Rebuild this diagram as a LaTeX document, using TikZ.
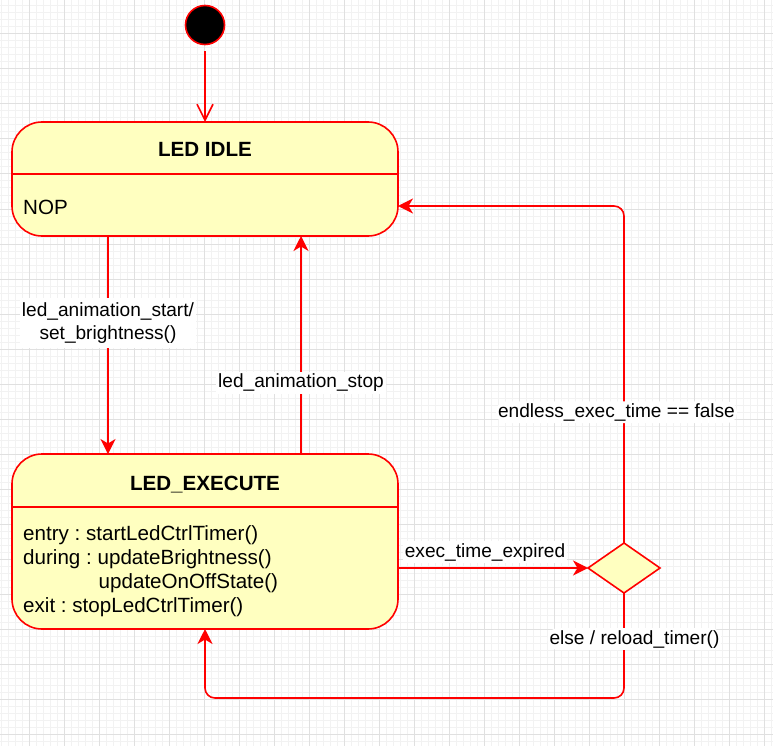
\documentclass[tikz,border=0pt]{standalone}
\usepackage{fontspec}
\setmainfont{Liberation Sans}
\usetikzlibrary{arrows.meta,shapes.geometric}
\definecolor{stfill}{HTML}{FFFFC0}
\definecolor{gmaj}{HTML}{E0E0E0}
\definecolor{gmin}{HTML}{F2F2F2}
\definecolor{lred}{HTML}{FF0000}
\newcommand\bxfont{\fontsize{20.6}{24}\selectfont}
\newcommand\lbfont{\fontsize{19.1}{23.3}\selectfont}
\frenchspacing
\begin{document}
\begin{tikzpicture}[x=1pt,y=-1pt,
  statebox/.style={draw=lred, fill=stfill, line width=1.6pt, rounded corners=30pt,
    inner sep=0pt, outer sep=0pt, minimum width=386pt},
  divider/.style={draw=lred, line width=1.6pt},
  conn/.style={draw=lred, line width=1.6pt, -{Stealth[length=15pt,width=15pt,inset=4.5pt]}},
  lbl/.style={fill=white, inner sep=2pt, font=\lbfont, anchor=base},
  titletext/.style={font=\bxfont\bfseries, anchor=base, inner sep=0pt},
  bodytext/.style={font=\bxfont, anchor=base west, inner sep=0pt},
  gridmin/.style={draw=gmin, line width=1pt},
  gridmaj/.style={draw=gmaj, line width=1pt}]
\useasboundingbox (0,0) rectangle (773,746);
\fill[white] (0,0) rectangle (773,746);
% grid
\foreach \i in {0,...,110} \draw[gridmin] ({1.5+7*\i},0) -- ({1.5+7*\i},746);
\foreach \i in {0,...,106} \draw[gridmin] (0,{6+7*\i}) -- (773,{6+7*\i});
\foreach \i in {0,...,23} \draw[gridmaj] ({-5.5+35*\i},0) -- ({-5.5+35*\i},746);
\foreach \i in {0,...,22} \draw[gridmaj] (0,{-1+35*\i}) -- (773,{-1+35*\i});

% helper coordinates
\coordinate (y174) at (0,174);
\coordinate (y507) at (0,507);
\coordinate (y206) at (0,206);
\coordinate (y698) at (0,698);
\coordinate (x108) at (108,0);
\coordinate (x301) at (301,0);

% initial state
\node[circle, fill=black, draw=lred, line width=1.6pt, minimum size=39pt, inner sep=0pt, outer sep=0pt] (init) at (205,25) {};

% LED IDLE
\node[statebox, minimum height=114pt] (idle) at (205,179) {};
\draw[divider] (idle.west |- y174) -- (idle.east |- y174);
\node[titletext] (idletitle) at (205,156.7) {LED IDLE};
\node[bodytext] (idlebody) at (23,214.3) {NOP};

% LED_EXECUTE
\node[statebox, minimum height=175pt] (exe) at (205,541.5) {};
\draw[divider] (exe.west |- y507) -- (exe.east |- y507);
\node[titletext] (exetitle) at (205,490) {LED\_EXECUTE};
\node[bodytext] (exebody) at (23,540.5) {\begin{tabular}[t]{@{}l@{}}
entry : startLedCtrlTimer()\\
during : updateBrightness()\\
\hspace*{75.5pt}updateOnOffState()\\
exit : stopLedCtrlTimer()
\end{tabular}};

% choice
\node[diamond, draw=lred, fill=stfill, line width=1.6pt, minimum width=72pt, minimum height=50pt,
  aspect=1.44, inner sep=0pt, outer sep=0pt] (dia) at (624,568) {};

% connectors
\draw[lred, line width=1.6pt, -{Straight Barb[length=16pt,width=16pt]}, shorten <=7pt] (init) -- (idle);
\draw[conn] (idle.south -| x108) -- node[lbl, pos=0.367]{\begin{tabular}[t]{@{}c@{}}led\_animation\_start/\\set\_brightness()\end{tabular}} (exe.north -| x108);
\draw[conn] (exe.north -| x301) -- node[lbl, pos=0.303]{led\_animation\_stop} (idle.south -| x301);
\draw[conn] (dia.west -| exe.east) -- node[lbl, pos=0.458, yshift=10.7pt]{exec\_time\_expired} (dia.west);
\draw[conn, rounded corners=10pt] (dia.north) -- node[lbl, pos=0.373, xshift=-7.5pt]{endless\_exec\_time == false} (dia.north |- y206) -- (idle.east |- y206);
\draw[conn, rounded corners=10pt] (dia.south) -- node[lbl, pos=0.486, xshift=10.5pt]{else / reload\_timer()} (dia.south |- y698) -- (exe.south |- y698) -- (exe.south);
\end{tikzpicture}
\end{document}
